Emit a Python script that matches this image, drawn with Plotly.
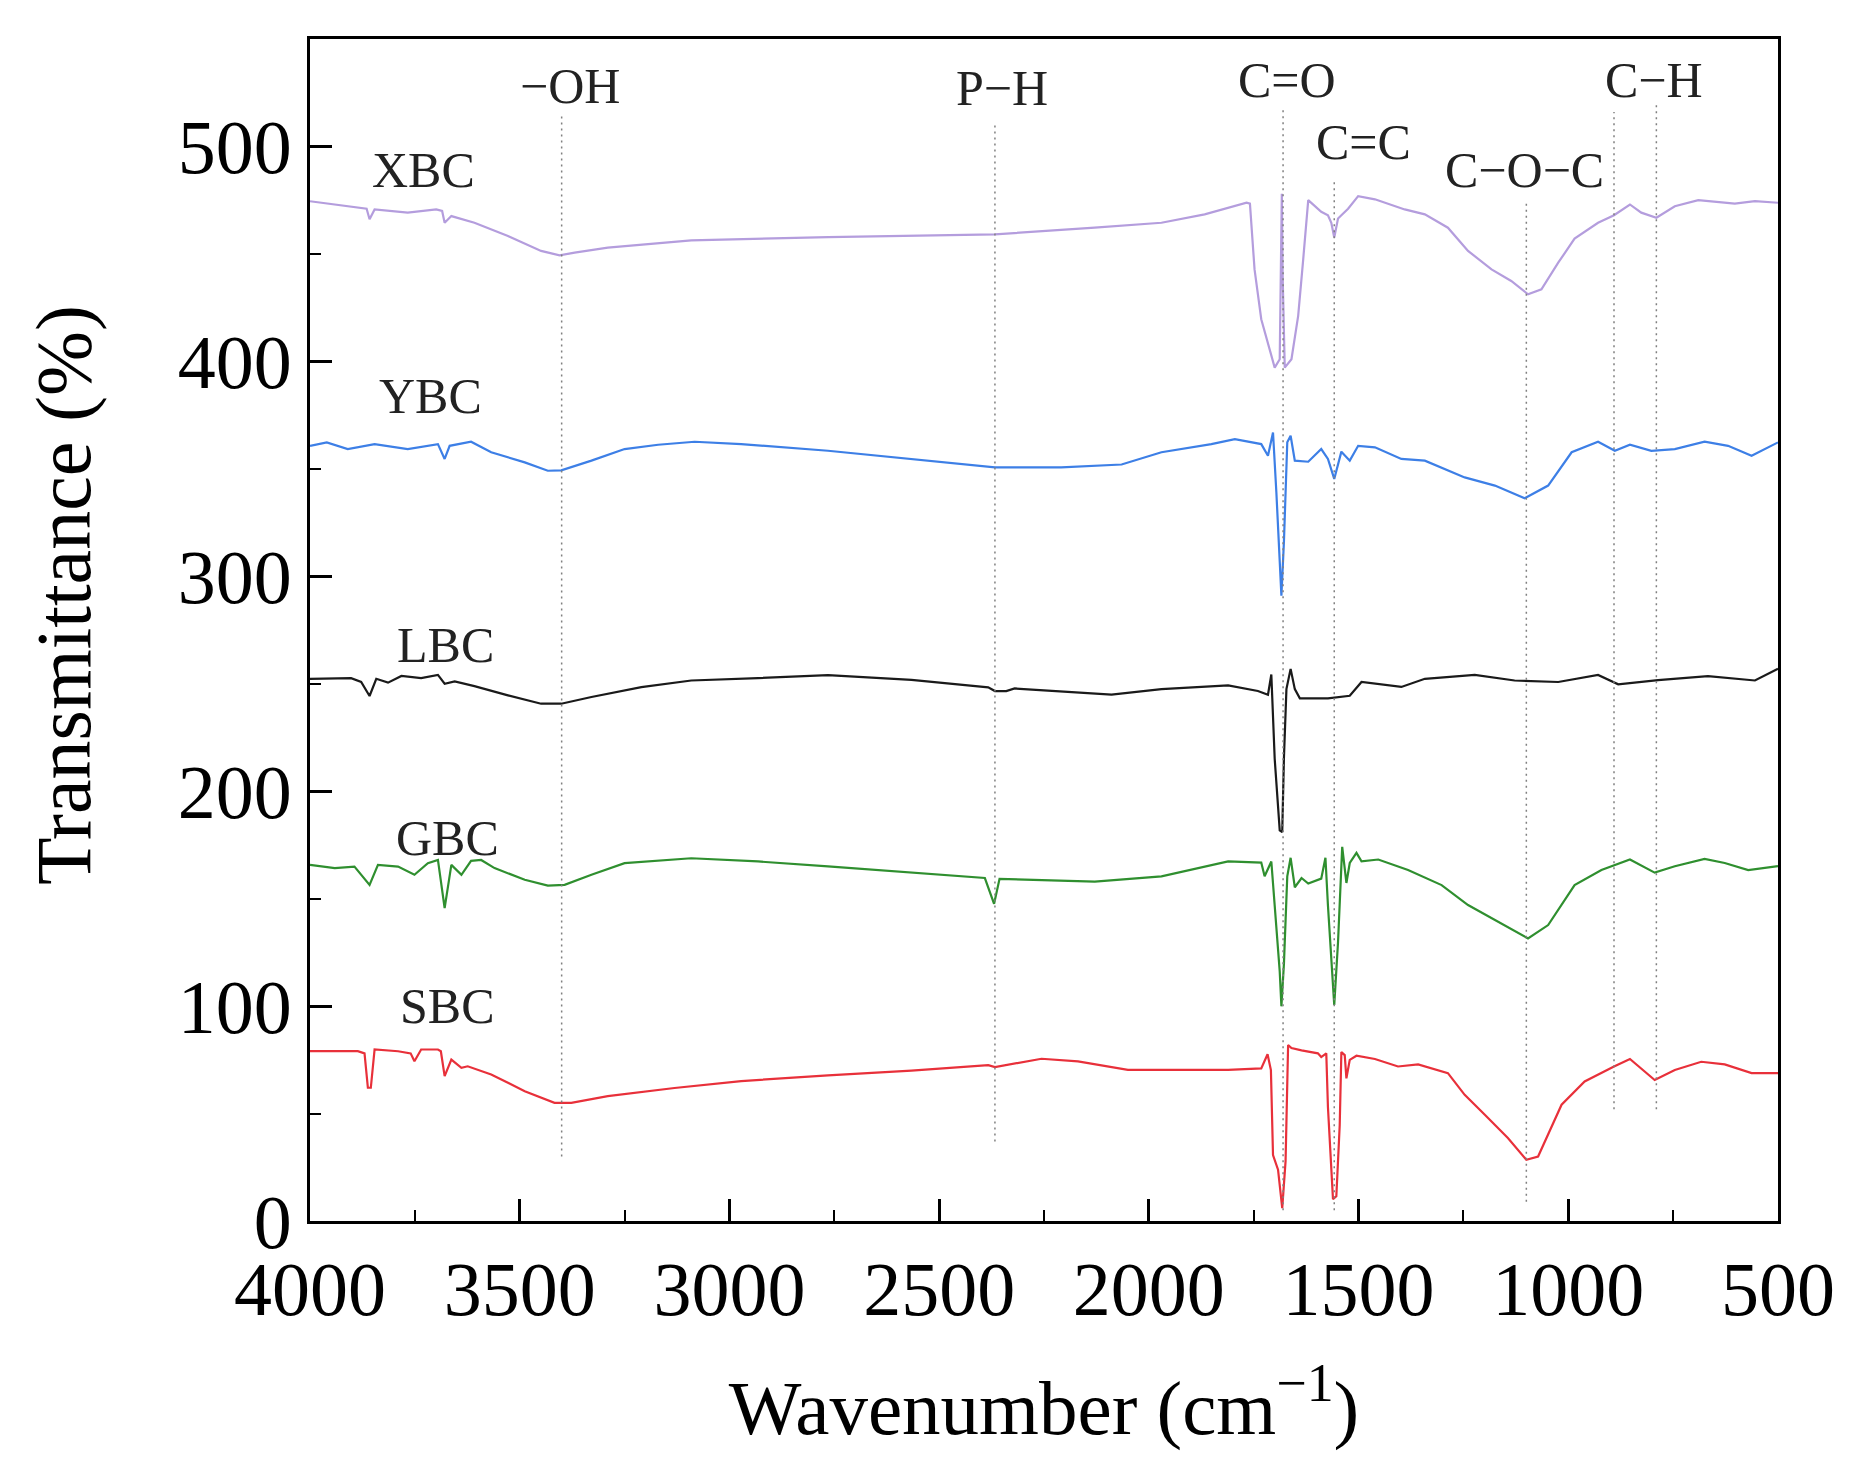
import plotly.graph_objects as go

# FTIR spectra (wavenumber in cm-1, transmittance offset in %)
wn_xbc = [4000, 3878, 3865, 3858, 3846, 3767, 3699, 3685, 3679, 3663, 3608, 3528, 3449, 3405, 3369,
          3290, 3091, 2765, 2367, 2129, 1970, 1867, 1767, 1759, 1748, 1732, 1700, 1688, 1685, 1683,
          1681, 1676, 1660, 1644, 1632, 1620, 1589, 1573, 1565, 1558, 1549, 1525, 1501, 1461, 1390,
          1342, 1287, 1239, 1183, 1136, 1096, 1064, 1024, 985, 929, 891, 853, 826, 790, 746, 690,
          603, 555, 500]
t_xbc = [474.5, 471.5, 471, 466.1, 470.7, 469.2, 470.7, 470, 464.5, 467.6, 464.5, 458.3, 451.4, 449.3, 450.6,
         452.9, 456.3, 457.8, 459.1, 462.2, 464.5, 468.4, 473.8, 473.4, 442.8, 419.6, 397.1, 401, 440, 478,
         440, 397.1, 401, 421.2, 447.5, 475, 469.6, 468, 464.5, 457.6, 466.5, 471, 476.9, 475.4, 470.7,
         468.4, 462.2, 451.4, 442.8, 437.4, 431.2, 433.5, 445.9, 457.1, 464.5, 468, 473, 469.2, 466.8, 472.2, 475,
         473.4, 474.6, 473.8]

wn_ybc = [4000, 3960, 3910, 3846, 3767, 3695, 3679, 3667, 3616, 3568, 3488, 3433, 3401, 3329, 3250,
          3170, 3083, 2972, 2765, 2566, 2380, 2367, 2209, 2065, 1970, 1851, 1795, 1732, 1716, 1704,
          1696, 1684, 1678, 1670, 1662, 1652, 1620, 1589, 1573, 1558, 1541, 1521, 1501, 1461, 1398,
          1342, 1247, 1175, 1104, 1048, 992, 929, 889, 853, 802, 746, 675, 619, 563, 500]
t_ybc = [360.7, 362.3, 359.2, 361.5, 359.2, 361.5, 354.6, 360.7, 362.6, 357.7, 353.0, 349.1, 349.3, 353.8, 359.2,
         361.2, 362.6, 361.5, 358.4, 354.6, 351, 350.7, 350.7, 352.0, 357.7, 361.5, 363.8, 361.5, 356.1, 366.9,
         339.1, 291.0, 315.8, 362.3, 365.4, 353.8, 353.3, 359.2, 354.6, 345.3, 358, 353.8, 360.7, 360, 354.6,
         353.8, 346, 342.2, 336.3, 342.2, 357.7, 362.6, 358.4, 361.2, 358.4, 359.2, 362.6, 360.7, 356.1, 362.3]

wn_lbc = [4000, 3902, 3878, 3858, 3842, 3814, 3782, 3735, 3695, 3679, 3655, 3608, 3528, 3449, 3401,
          3329, 3210, 3091, 2932, 2765, 2566, 2383, 2367, 2340, 2320, 2089, 1970, 1811, 1740, 1716,
          1708, 1700, 1688, 1682, 1678, 1672, 1662, 1652, 1640, 1573, 1521, 1493, 1398, 1342, 1223,
          1128, 1024, 929, 881, 786, 667, 555, 500]
t_lbc = [252.3, 252.6, 250.8, 244.3, 252.3, 250.5, 253.6, 252.6, 254.1, 250, 251.1, 248.9, 244.6, 240.7, 240.7,
         243.8, 248.4, 251.5, 252.6, 254.0, 251.8, 248.3, 246.6, 246.6, 247.8, 244.9, 247.5, 249.2, 246.6, 244.9,
         254.3, 215.1, 181.8, 181.0, 215.1, 247.5, 256.9, 247.5, 243.2, 243.2, 244.4, 250.8, 248.5, 252.3, 254.1,
         251.5, 250.8, 254.1, 249.7, 251.7, 253.5, 251.5, 257.0]

wn_gbc = [4000, 3941, 3894, 3858, 3838, 3790, 3751, 3719, 3695, 3679, 3663, 3639, 3616, 3592, 3560,
          3488, 3433, 3393, 3329, 3250, 3091, 2932, 2765, 2566, 2391, 2369, 2356, 2129, 1970, 1811,
          1732, 1724, 1708, 1700, 1688, 1684, 1678, 1670, 1662, 1652, 1636, 1620, 1589, 1579, 1573,
          1558, 1549, 1539, 1529, 1521, 1505, 1493, 1453, 1382, 1302, 1239, 1175, 1096, 1048, 985,
          921, 853, 794, 746, 675, 627, 571, 500]
t_gbc = [165.7, 164.2, 164.9, 156.4, 165.7, 164.9, 161.1, 166.5, 168.0, 145.6, 165.7, 161.1, 167.6, 168.0, 164.2,
         158.8, 156.1, 156.4, 161.1, 166.5, 168.8, 167.3, 165, 162.1, 159.6, 147.6, 159.2, 157.9, 160.4, 167.3,
         166.8, 160.4, 167.3, 146.8, 116.1, 99.9, 119.5, 160.4, 169.0, 155.3, 159.6, 157.0, 159.3, 169, 146.8,
         100.5, 129.7, 174.1, 157.3, 166.6, 171.3, 167.4, 168.2, 163.3, 156.3, 147.0, 140, 131.5, 137.7, 156.3,
         163.3, 168.2, 162.1, 165.1, 168.5, 166.6, 163.3, 165.1]

wn_sbc = [4000, 3886, 3870, 3862, 3855, 3846, 3790, 3760, 3751, 3735, 3695, 3688, 3679, 3663, 3639,
          3624, 3568, 3488, 3417, 3377, 3290, 3131, 2972, 2765, 2566, 2383, 2367, 2256, 2169, 2050,
          1811, 1732, 1717, 1709, 1704, 1692, 1682, 1674, 1668, 1660, 1636, 1597, 1589, 1577, 1573,
          1561, 1553, 1545, 1541, 1533, 1529, 1521, 1505, 1461, 1406, 1358, 1287, 1247, 1199, 1144,
          1100, 1072, 1016, 961, 891, 853, 794, 746, 683, 627, 563, 500]
t_sbc = [79.0, 79.0, 78, 62, 62, 79.8, 79.0, 78, 74.3, 79.8, 79.8, 79, 67.4, 75.1, 71.3,
         72.0, 68.2, 60.4, 55.0, 55.0, 58.1, 61.9, 65.1, 67.8, 70.0, 72.5, 71.6, 75.5, 74.3, 70.3,
         70.3, 71.0, 77.6, 70.2, 30.7, 23.9, 6.0, 28.0, 81.9, 80.5, 79.4, 78.0, 76.3, 78, 52.9,
         10.2, 11.5, 44.4, 78.6, 77.2, 66.4, 75, 76.9, 75.4, 71.9, 72.9, 68.8, 58.7, 49.4, 38.6,
         28.5, 30.0, 54.1, 64.9, 71.9, 75.4, 65.6, 70.3, 74.1, 72.9, 68.8, 68.8]

samples = ["XBC", "YBC", "LBC", "GBC", "SBC"]
colors = ["#b49ddd", "#3d7fe6", "#1a1a1a", "#2f8f2f", "#e8303a"]
label_x = [3730, 3712, 3678, 3672, 3672]
label_y = [489, 384, 268, 178, 100]

# assigned bands: dotted guide lines and their labels
bands = ["−OH", "P−H", "C=O", "C=C", "C−O−C", "C−H", ""]
band_wn = [3400, 2367, 1680, 1558, 1100, 891, 790]
band_top = [514, 511, 518, 485, 474, 516, 520]
band_bottom = [30, 37, 5, 5, 9, 52, 52]
band_label_x = [3380, 2350, 1670, 1488, 1105, 795, None]
band_label_y = [528, 527, 531, 502, 489, 531, None]

series = [(wn_xbc, t_xbc), (wn_ybc, t_ybc), (wn_lbc, t_lbc), (wn_gbc, t_gbc), (wn_sbc, t_sbc)]

FONT = "Liberation Serif"

fig = go.Figure()

for name, (wn, t), c in zip(samples, series, colors):
    fig.add_trace(go.Scatter(x=wn, y=t, mode="lines", name=name,
                             line=dict(color=c, width=2.2), showlegend=False))

for wn, top, bot in zip(band_wn, band_top, band_bottom):
    fig.add_trace(go.Scatter(x=[wn, wn], y=[bot, top], mode="lines", showlegend=False,
                             line=dict(color="#808080", width=1.5, dash="2px,4px")))

for name, x, y in zip(samples, label_x, label_y):
    fig.add_annotation(x=x, y=y, text=name, showarrow=False,
                       font=dict(family=FONT, size=50, color="#222"))

for name, x, y in zip(bands, band_label_x, band_label_y):
    if name:
        fig.add_annotation(x=x, y=y, text=name, showarrow=False,
                           font=dict(family=FONT, size=50, color="#222"))

# y title placed by hand, it sits a bit above the middle in the original
fig.add_annotation(xref="paper", yref="paper", x=-0.168, y=0.53, text="Transmittance (%)",
                   textangle=-90, showarrow=False, xanchor="center", yanchor="middle",
                   font=dict(family=FONT, size=78, color="black"))

fig.update_xaxes(range=[4000, 500], tickvals=[4000, 3500, 3000, 2500, 2000, 1500, 1000, 500],
                 ticks="inside", ticklen=22, tickwidth=3, tickcolor="black",
                 minor=dict(ticks="inside", ticklen=11, tickwidth=2, dtick=250, tickcolor="black"),
                 showline=True, linewidth=3, linecolor="black", mirror=True, showgrid=False,
                 zeroline=False, tickfont=dict(family=FONT, size=76, color="black"),
                 title=dict(text="Wavenumber (cm<sup>−1</sup>)", standoff=50,
                            font=dict(family=FONT, size=77, color="black")))
fig.update_yaxes(range=[0, 550], tickvals=[0, 100, 200, 300, 400, 500],
                 ticks="inside", ticklen=22, tickwidth=3, tickcolor="black",
                 minor=dict(ticks="inside", ticklen=11, tickwidth=2, dtick=50, tickcolor="black"),
                 showline=True, linewidth=3, linecolor="black", mirror=True, showgrid=False,
                 zeroline=False, tickfont=dict(family=FONT, size=76, color="black"))

fig.update_layout(width=1851, height=1475, paper_bgcolor="white", plot_bgcolor="white",
                  margin=dict(l=302, r=81, t=31, b=262))

fig.write_html("out.html")
